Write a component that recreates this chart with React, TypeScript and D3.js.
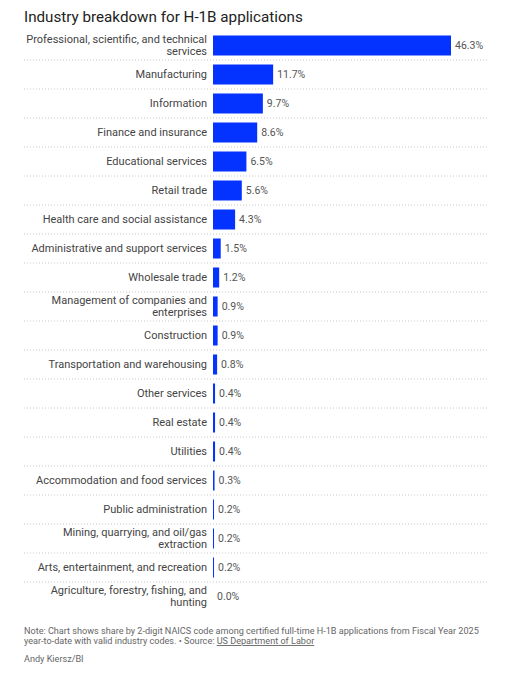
import { useEffect, useRef } from "react"
import * as d3 from "d3"

// Industry categories (NAICS 2-digit); "\n" marks where the label wraps
const categories = [
  "Professional, scientific, and technical\nservices",
  "Manufacturing",
  "Information",
  "Finance and insurance",
  "Educational services",
  "Retail trade",
  "Health care and social assistance",
  "Administrative and support services",
  "Wholesale trade",
  "Management of companies and\nenterprises",
  "Construction",
  "Transportation and warehousing",
  "Other services",
  "Real estate",
  "Utilities",
  "Accommodation and food services",
  "Public administration",
  "Mining, quarrying, and oil/gas\nextraction",
  "Arts, entertainment, and recreation",
  "Agriculture, forestry, fishing, and\nhunting",
]

// Share of certified H-1B applications, %
const shares = [46.3, 11.7, 9.7, 8.6, 6.5, 5.6, 4.3, 1.5, 1.2, 0.9, 0.9, 0.8, 0.4, 0.4, 0.4, 0.3, 0.2, 0.2, 0.2, 0.0]

const title = "Industry breakdown for H-1B applications"
const noteLine1 = "Note: Chart shows share by 2-digit NAICS code among certified full-time H-1B applications from Fiscal Year 2025"
const noteLine2 = "year-to-date with valid industry codes. • Source: "
const sourceLink = "US Department of Labor"
const credit = "Andy Kiersz/BI"

const FONT = "Roboto, 'Noto Sans', sans-serif"

export default function App() {
  const svgRef = useRef<SVGSVGElement>(null)

  useEffect(() => {
    document.body.style.margin = "0"
    if (!svgRef.current) return

    const svg = d3.select(svgRef.current)
    svg.selectAll("*").remove()

    const left = 24
    const barX = 213
    const lineRight = 487

    const data = categories.map((c, i) => ({ name: c, value: shares[i] }))

    // Scales
    const x = d3.scaleLinear().domain([0, 46.3]).range([barX, 451])
    const y = d3.scaleBand<string>().domain(categories).range([31, 611]).paddingInner(0.31).paddingOuter(0.155)
    const gap = (y.step() - y.bandwidth()) / 2

    // Title
    svg
      .append("text")
      .attr("x", left)
      .attr("y", 22)
      .style("font-family", FONT)
      .style("font-size", "15.2px")
      .style("fill", "#222")
      .text(title)

    // Dotted separators between rows
    svg
      .append("g")
      .selectAll("line")
      .data(categories.slice(1))
      .enter()
      .append("line")
      .attr("x1", left)
      .attr("x2", lineRight)
      .attr("y1", (d) => (y(d) || 0) - gap)
      .attr("y2", (d) => (y(d) || 0) - gap)
      .style("stroke", "#c8c8c8")
      .style("stroke-width", 1)
      .style("stroke-dasharray", "1,2")

    // Bars
    svg
      .append("g")
      .selectAll("rect")
      .data(data)
      .enter()
      .append("rect")
      .attr("x", x(0))
      .attr("y", (d) => y(d.name) || 0)
      .attr("width", (d) => x(d.value) - x(0))
      .attr("height", y.bandwidth())
      .style("fill", "#0432ff")

    // Value labels
    svg
      .append("g")
      .selectAll("text")
      .data(data)
      .enter()
      .append("text")
      .attr("x", (d) => x(d.value) + 4)
      .attr("y", (d) => (y(d.name) || 0) + y.bandwidth() / 2)
      .attr("dominant-baseline", "central")
      .style("font-family", FONT)
      .style("font-size", "10.5px")
      .style("fill", "#555")
      .text((d) => d.value.toFixed(1) + "%")

    // Category labels
    const lh = 12.5
    svg
      .append("g")
      .selectAll("text")
      .data(data)
      .enter()
      .append("text")
      .attr("text-anchor", "end")
      .style("font-family", FONT)
      .style("font-size", "11px")
      .style("fill", "#444")
      .each(function (d) {
        const lines = d.name.split("\n")
        const cy = (y(d.name) || 0) + y.bandwidth() / 2
        lines.forEach((ln, i) => {
          d3.select(this)
            .append("tspan")
            .attr("x", 207)
            .attr("y", cy + (i - (lines.length - 1) / 2) * lh)
            .attr("dominant-baseline", "central")
            .text(ln)
        })
      })

    // Footer
    const foot = svg.append("g").style("font-family", FONT).style("font-size", "9.1px").style("fill", "#666")
    foot.append("text").attr("x", left).attr("y", 634).text(noteLine1)
    const l2 = foot.append("text").attr("x", left).attr("y", 644)
    l2.append("tspan").text(noteLine2)
    l2.append("tspan").style("text-decoration", "underline").text(sourceLink)
    foot.append("text").attr("x", left).attr("y", 662).text(credit)
  }, [])

  return <svg ref={svgRef} width={514} height={676} style={{ display: "block" }} />
}
